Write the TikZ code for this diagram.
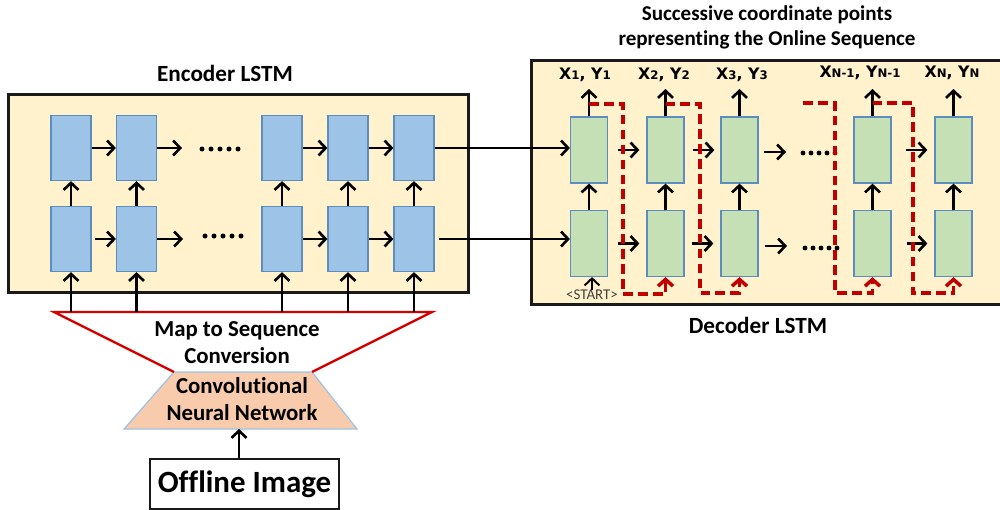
\documentclass[tikz,border=0pt]{standalone}
\usepackage{fontspec}
\setmainfont{Carlito}[Ligatures=NoCommon]
\newfontfamily\labfont{DejaVu Sans}
\usetikzlibrary{arrows.meta,calc}
\definecolor{bgyellow}{HTML}{FFF2CC}
\definecolor{lstmblue}{HTML}{9DC3E6}
\definecolor{lstmgreen}{HTML}{C5E0B4}
\definecolor{cellborder}{HTML}{5B8DBE}
\definecolor{cnnfill}{HTML}{F8CBAD}
\definecolor{cnnborder}{HTML}{9DC3E6}
\definecolor{darkred}{HTML}{C00000}
\definecolor{trapred}{HTML}{D40000}
\definecolor{framegray}{HTML}{1A1A1A}
\newcommand{\subsz}[1]{{\fontsize{6.7}{7}\selectfont #1}}
\begin{document}
\begin{tikzpicture}[x=0.02cm,y=-0.02cm,
  container/.style={draw=framegray,line width=1.8pt,fill=bgyellow,anchor=north west,inner sep=0pt},
  ebox/.style={draw=cellborder,line width=0.7pt,fill=lstmblue,minimum width=0.8cm,minimum height=1.3cm,inner sep=0pt},
  dbox/.style={draw=cellborder,line width=0.7pt,fill=lstmgreen,minimum width=0.74cm,minimum height=1.32cm,inner sep=0pt},
  arr/.style={line width=1.5pt,-{Straight Barb[length=4pt,width=8.5pt]}},
  redarr/.style={draw=darkred,line width=2pt,dash pattern=on 5.5pt off 3pt,-{Straight Barb[length=3.8pt,width=8.5pt]}},
  redline/.style={draw=trapred,line width=1.3pt},
  ttl/.style={font=\fontsize{13.2}{15}\selectfont\bfseries,inner sep=0pt},
  lbl/.style={font=\labfont\fontsize{9}{10}\selectfont\bfseries,inner sep=1pt},
  dot/.style={fill=black}
]
\useasboundingbox (0,0) rectangle (1000,510);
\clip (0,0) rectangle (1000,510);

% ---------- containers ----------
\node[container,minimum width=9.2cm,minimum height=3.96cm] (enc) at (7,93) {};
\node[container,minimum width=9.8cm,minimum height=4.88cm] (dec) at (530,59) {};

% ---------- titles ----------
\node[ttl] (enctitle) at (225,73) {Encoder LSTM};
\node[ttl] (dectitle) at (758,325) {Decoder LSTM};
\node[font=\fontsize{12}{14.2}\selectfont\bfseries,align=center,inner sep=0pt] (outtitle) at (767,27)
  {Successive coordinate points\\representing the Online Sequence};

% ---------- encoder cells ----------
\foreach \i/\x in {1/71,2/136.5,3/282,4/348,5/414}{
  \node[ebox] (e1\i) at (\x,148) {};
  \node[ebox] (e2\i) at (\x,239) {};
}
% horizontal arrows, top row
\draw[arr] (e11.east) -- (e12.west);
\coordinate (et2) at (182,148);
\draw[arr] (e12.east) -- (et2);
\draw[arr] (e13.east) -- (e14.west);
\draw[arr] (e14.east) -- (e15.west);
% bottom row
\draw[arr,shorten <=0.06cm] (e21.east) -- (e22.west);
\coordinate (eb2) at (183,239);
\draw[arr] (e22.east) -- (eb2);
\draw[arr] (e23.east) -- (e24.west);
\draw[arr] (e24.east) -- (e25.west);
% dots
\foreach \x in {202,211,220,229,238} \fill[dot] (\x,149) circle (2.5);
\foreach \x in {205,214,223,232,241} \fill[dot] (\x,236) circle (2.5);

% ---------- map-to-sequence and CNN ----------
\coordinate (mapL) at (54,312);
\coordinate (mapR) at (432,312);
\coordinate (cnnTL) at (174,372);
\coordinate (cnnTR) at (312,372);
\coordinate (cnnBR) at (357,429);
\coordinate (cnnBL) at (124,429);
\coordinate (cnnB) at (239,429);
\filldraw[fill=cnnfill,draw=cnnborder,line width=0.7pt] (cnnTL) -- (cnnTR) -- (cnnBR) -- (cnnBL) -- cycle;
\draw[redline] (cnnTL) -- (mapL) -- (mapR) -- (cnnTR);
\node[font=\fontsize{13}{15.3}\selectfont\bfseries,align=center,inner sep=0pt] (maptext) at (237,343) {Map to Sequence\\Conversion};
\node[font=\fontsize{13}{15.3}\selectfont\bfseries,align=center,inner sep=0pt] (cnn) at (242,399) {Convolutional\\Neural Network};

% vertical arrows in encoder
\foreach \i in {1,...,5}{
  \draw[arr] (e2\i.north) -- (e1\i.south);
  \draw[arr] (e2\i.south |- mapL) -- (e2\i.south);
}

% offline image
\node[draw=framegray,line width=1.3pt,minimum width=3.78cm,minimum height=1.0cm,inner sep=0pt,
      font=\fontsize{17.6}{19}\selectfont\bfseries] (off) at (244.5,484) {Offline Image};
\draw[arr] (cnnB |- off.north) -- (cnnB);

% ---------- decoder cells ----------
\foreach \i/\x in {1/589,2/665.5,3/739.5,4/872.5,5/953.5}{
  \node[dbox] (d1\i) at (\x,150) {};
  \node[dbox] (d2\i) at (\x,243.5) {};
}
% labels
\node[lbl] (l1) at (585,75) {X\subsz{1}, Y\subsz{1}};
\node[lbl] (l2) at (664,75) {X\subsz{2}, Y\subsz{2}};
\node[lbl] (l3) at (742,75) {X\subsz{3}, Y\subsz{3}};
\node[lbl] (l4) at (860,73) {X\subsz{N-1}, Y\subsz{N-1}};
\node[lbl] (l5) at (952,73) {X\subsz{N}, Y\subsz{N}};
\foreach \i in {1,...,5}{
  \draw[arr] (d1\i.north) -- (d1\i.north |- 0,89);
  \draw[arr] (d2\i.north) -- (d1\i.south);
}

% encoder -> decoder
\draw[arr] (e15.east) -- (e15.east -| d11.west);
\draw[arr,shorten <=0.08cm] (e25.east) -- (e25.east -| d21.west);

% decoder horizontal arrows
\draw[arr,shorten <=0.2cm,shorten >=0.14cm] (d11.east) -- (d12.west);
\draw[arr,shorten <=0.16cm,shorten >=0.12cm] (d12.east) -- (d13.west);
\coordinate (dt3) at (786,152);
\draw[arr,shorten <=0.1cm] (d13.east |- dt3) -- (dt3);
\draw[arr,shorten <=0.28cm,shorten >=0.14cm] (d14.east) -- (d15.west);
\draw[arr,shorten <=0.2cm,shorten >=0.14cm] (d21.east) -- (d22.west);
\draw[arr,shorten <=0.14cm,shorten >=0.14cm] (d22.east) -- (d23.west);
\coordinate (db3) at (787,246);
\draw[arr,shorten <=0.12cm] (d23.east |- db3) -- (db3);
\draw[arr,shorten <=0.3cm,shorten >=0.14cm] (d24.east) -- (d25.west);
\foreach \x in {803,811,819,827,835} \fill[dot] (\x,153) circle (2.4);
\foreach \x in {805,813,821,829,837} \fill[dot] (\x,248) circle (2.4);

% start token
\node[font=\fontsize{8.5}{9}\selectfont,text=black!75,inner sep=0pt] (start) at (592,295) {<START>};
\draw[arr,line width=1.1pt] (start.north) -- (start.north |- d21.south);

% red feedback paths
\coordinate (r1) at (589,104);
\coordinate (r2) at (665.5,104);
\coordinate (r3) at (803,103);
\coordinate (r4) at (872.5,103);
\draw[redarr] (r1) -- (623,104) -- (623,294) -| (d22.south);
\draw[redarr] (r2) -- (700,104) -- (700,293) -| (d23.south);
\draw[redarr] (r3) -- (835,103) -- (835,293) -| (d24.south);
\draw[redarr] (r4) -- (913,103) -- (913,293) -| (d25.south);
\end{tikzpicture}
\end{document}
